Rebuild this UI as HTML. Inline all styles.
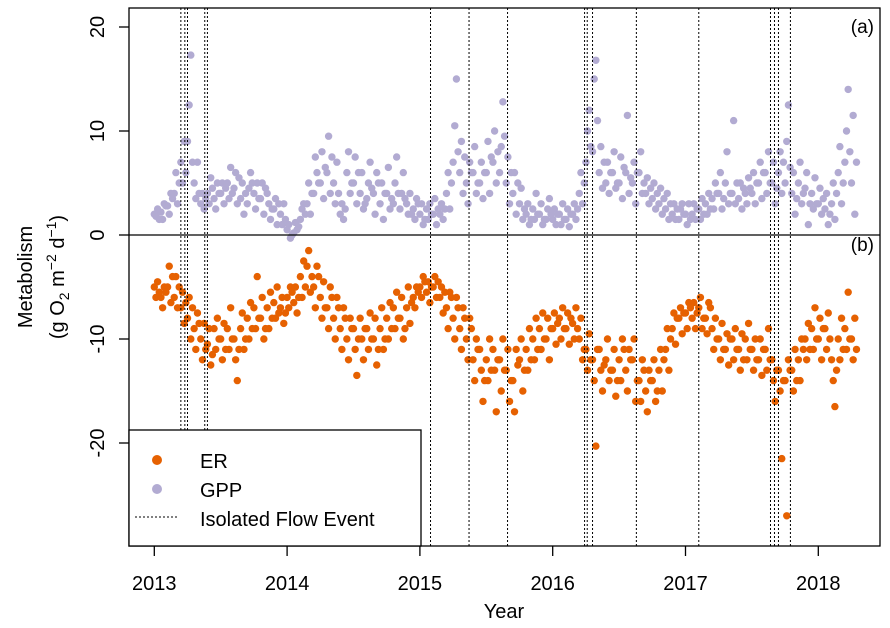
<!DOCTYPE html>
<html><head><meta charset="utf-8"><style>
html,body{margin:0;padding:0;background:#fff;}
svg{display:block;font-family:"Liberation Sans",Arial,sans-serif;}
</style></head><body>
<svg id="chart" width="890" height="628" viewBox="0 0 890 628"></svg>
<script>
const startYear = 2013.0;
const dateStep = 0.05;
const gppValues = [
2,1.8,2.5, 2.2,1.5,3, 2.8,2,4, 4,6,3, 7,5,9, 9,12.5,17.3, 5,3.5,7, 3,4,2.5, 4,3,5.5, 3.5,2.5,5,
4,5,3, 5,3.5,6.5, 4.5,6,3, 3.5,5,2, 3,4.5,6, 4,2.5,5, 3.5,5,2, 4,3,1.5, 2.5,3.5,1, 2,1,3,
0.5,1,-0.3, 0.2,1.2,0.5, 1.5,2.5,3, 3,5,2, 4,7.5,6, 5,8,3.5, 6,9.5,4, 5,3,7, 2,3,1.5, 6,8,4,
5,7.5,3, 4,6,2.5, 3.5,5,7, 4,2,6, 3,5,1.5, 4,6.5,2.5, 3,5,7.5, 2.5,4,6, 3,2,4, 2.5,1.5,3.5,
2,3,1, 2.5,1.5,3, 2,3.5,1, 2,3,1.5, 4,6,2.5, 7,10.5,15, 6,9,4, 5,3,7, 6,8.5,4, 5,7,3.5,
6,9,4, 7,10,5, 6,8.5,12.8, 5,7.5,3, 4,6,2, 3,4.5,1.5, 2,3,1, 2.5,1.5,4, 2,3,1, 1.5,2.5,3.5,
1.5,2.5,1, 2,1,3, 1.5,2.5,0.8, 2,3,1.5, 4,6,3, 7,10,12, 8,15,16.8, 6,8.5,4.5, 5,7,4, 6,8,4.5,
5,7.5,3.5, 6,11.5,4, 5,7,3, 6,8,4, 4,5.5,3, 3.5,5,2.5, 3,4.5,2, 2.5,4,1.5, 2,3,1.5, 1.5,2.5,3,
2,1,3, 2,3,1.5, 2.5,1.5,3.5, 3,2,4, 3.5,2.5,5, 4,6,2.5, 5,8,3, 4,11,3, 3.5,5,2.5, 4,3,5.5,
4,6,3, 5,7,3.5, 6,4,8, 5,7,3, 6,8,4, 5,9,12.5, 4,6,2, 5,7,3, 4.5,6,1, 4,2.5,5.5,
3,4.5,2, 2.5,4,1, 3,5,1.5, 6,8.5,3, 7,10,14, 5,11.5,2
];
const gppExtra = [
1.5,2.8,3.5,5,6,7,4,3.5,4.5,4, 4.5,4,5.5,4,5,3.5,4.5,2.5,3,1.5,
0,0.8,2,4,5,6.5,7.5,4,2.5,5, 6,3,4.5,5,4,3.5,4,3.5,2,3,
1.5,2,2.5,2.5,5,8,7.5,6,5,6, 7.5,8,9.5,6,5,2.5,1.5,2,1.5,2,
2,1.5,2,2.5,5,8.5,11,7,6,5, 6.5,5.5,6,5,4.5,4,3.5,3,2.5,2,
1.5,2.5,2,2.5,4,3.5,4,5,4.5,4.5, 5,6,5,4.5,7,6.5,3.5,4,3,3,
3.5,2,4,5,8,7
];
const erValues = [
-5,-6,-4.5, -6,-7,-5, -5,-3,-6.5, -6,-4,-7, -7,-5.5,-8.5, -8,-6,-10, -9,-11,-7.5, -10,-12,-8.5, -10.5,-9,-12.5, -9,-11,-8,
-10,-12,-8.5, -9,-11,-7, -10,-12,-14, -9,-7.5,-11, -8,-10,-6.5, -7,-9,-4, -8,-6,-10, -7,-9,-5.5, -6.5,-8,-5, -7,-6,-8.5,
-6,-7,-5, -6.5,-5,-7.5, -4,-6,-2.5, -3,-1.5,-5.5, -5,-7,-3, -6,-8,-4.5, -7,-9,-5, -8,-10,-6, -9,-11,-7, -10,-12,-8,
-9,-11,-13.5, -8,-10,-12, -9,-11,-7.5, -10,-8,-12.5, -9,-7,-11, -8,-10,-6.5, -7,-9,-5.5, -8,-6,-10, -7,-5,-8.5, -6,-7,-5,
-5,-6,-4, -5.5,-4.5,-6.5, -5,-4,-6, -6,-5,-7.5, -7,-9,-5.5, -8,-10,-6, -9,-11,-7, -10,-12,-8, -12,-14,-10, -11,-13,-16,
-12,-14,-10, -11,-13,-17, -12,-15,-10, -13,-11,-16, -14,-17,-11, -12,-10,-15, -11,-13,-9, -10,-12,-8, -9,-11,-7.5, -10,-8,-12,
-9,-7.5,-10.5, -8,-10,-7, -9,-7.5,-10.5, -8.5,-10,-7, -10,-8,-12, -11,-13,-9.5, -12,-14,-20.3, -11,-13,-15, -12,-10,-14, -13,-11,-15.5,
-12,-14,-10, -13,-15,-11, -12,-10,-16, -14,-16,-12, -15,-17,-13, -14,-12,-16, -13,-11,-15, -11,-9,-13, -9,-7.5,-10.5, -8,-7,-9.5,
-7.5,-9,-6.5, -8,-6.5,-9, -7,-6,-9, -8,-9.5,-6.5, -9,-11,-8, -10,-12,-8.5, -11,-9.5,-12.5, -10,-12,-9, -11,-13,-9.5, -10,-12,-8.5,
-11,-13,-10, -12,-10,-13.5, -11,-13,-9, -12,-14,-16, -13,-15,-21.5, -14,-27,-12, -13,-15,-11, -12,-14,-10, -10,-12,-8.5, -9,-11,-7,
-10,-8,-12, -9,-11,-7.5, -12,-14,-16.5, -10,-12,-8, -9,-11,-5.5, -10,-12,-8
];
const erExtra = [
-5.5,-5.5,-4,-5,-6.5,-7,-8.5,-11,-11.5,-10, -11,-10,-11,-10,-9,-8,-9,-8,-7.5,-7.5,
-5.5,-6,-5,-4,-4,-7,-6,-7,-8,-9, -10,-9,-10,-11,-10,-9,-8,-9,-6.5,-5.5,
-4.5,-5,-4.5,-5.5,-6,-7,-8,-9,-11,-14, -13,-12,-13,-14,-12.5,-13,-12,-11,-10,-9,
-8.5,-9,-8,-9,-11,-12,-11,-12.5,-13,-14, -11,-12,-14,-13,-14,-15,-12,-10,-8,-7.5,
-7,-7.5,-8,-7,-10,-11,-10,-11,-12,-11, -12,-11,-12,-13,-14,-13,-14,-11,-11,-10,
-9,-10,-13,-11,-10,-11
];
const eventYears = [2013.20,2013.23,2013.25,2013.38,2013.40,2015.08,2015.37,2015.66,2016.24,2016.26,2016.30,2016.63,2017.10,2017.64,2017.67,2017.70,2017.79];
const xTicks = [2013,2014,2015,2016,2017,2018];
const yTicks = [20,10,0,-10,-20];

const NS = 'http://www.w3.org/2000/svg';
const svg = document.getElementById('chart');
const L = 129, R = 880, T = 8, B = 546;
const xScale = v => 154.3 + (v - 2013) * 132.8;
const yScale = v => 235 - v * 10.4;
function mk(tag, attrs, parent) {
  const e = document.createElementNS(NS, tag);
  for (const k in attrs) e.setAttribute(k, attrs[k]);
  (parent || svg).appendChild(e);
  return e;
}
function tripletDate(i) { return startYear + Math.floor(i / 3) * dateStep + (i % 3) * (dateStep / 4); }
function extraDate(i) { return startYear + i * dateStep + 3 * dateStep / 4; }

function drawSeries(name, color, vals, extra) {
  const g = mk('g', {});
  
  
  vals.forEach((v, i) => {
    const c = mk('circle', {cx: xScale(tripletDate(i)), cy: yScale(v), r: 3.7, fill: color}, g);
    
    
  });
  extra.forEach((v, i) => {
    const c = mk('circle', {cx: xScale(extraDate(i)), cy: yScale(v), r: 3.7, fill: color}, g);
    
    
  });
}
drawSeries('gpp', '#b2abd2', gppValues, gppExtra);
drawSeries('er', '#e66101', erValues, erExtra);

eventYears.forEach(y => {
  const l = mk('line', {x1: xScale(y), x2: xScale(y), y1: T, y2: B, stroke: '#000', 'stroke-width': 1, 'stroke-dasharray': '2,2'});
  
  
});
const zl = mk('line', {x1: L, x2: R, y1: yScale(0), y2: yScale(0), stroke: '#000', 'stroke-width': 1.3});


const frame = mk('rect', {x: L, y: T, width: R - L, height: B - T, fill: 'none', stroke: '#000', 'stroke-width': 1.3});



xTicks.forEach(t => {
  const x = xScale(t);
  const tk = mk('line', {x1: x, x2: x, y1: B, y2: B + 10, stroke: '#000', 'stroke-width': 1.3});
  
  
  const tx = mk('text', {x: x, y: 590, 'font-size': 20, 'text-anchor': 'middle'});
  tx.textContent = t;
  
  
});
yTicks.forEach(t => {
  const y = yScale(t);
  const tk = mk('line', {x1: L - 10, x2: L, y1: y, y2: y, stroke: '#000', 'stroke-width': 1.3});
  
  
  const tx = mk('text', {x: 0, y: 0, 'font-size': 20, 'text-anchor': 'middle', transform: `translate(104,${y}) rotate(-90)`});
  tx.textContent = t;
  
  
});
</script>
<svg width="890" height="628" style="position:absolute;left:0;top:0;font-family:'Liberation Sans',Arial,sans-serif">
  <text x="504" y="618" font-size="20" text-anchor="middle">Year</text>
  <text transform="translate(32,277) rotate(-90)" font-size="20" text-anchor="middle">Metabolism</text>
  <text transform="translate(64,277) rotate(-90)" font-size="20" text-anchor="middle">(g O<tspan font-size="14" dy="5">2</tspan><tspan dy="-5"> m</tspan><tspan font-size="14" dy="-8">−2</tspan><tspan dy="8"> d</tspan><tspan font-size="14" dy="-8">−1</tspan><tspan dy="8">)</tspan></text>
  <text x="874" y="33" font-size="19" text-anchor="end">(a)</text>
  <text x="874" y="251" font-size="19" text-anchor="end">(b)</text>
  <g>
    <rect x="129" y="430" width="292" height="116" fill="#fff" stroke="#000" stroke-width="1.3"/>
    <circle cx="157" cy="460" r="5" fill="#e66101"/>
    <text x="200" y="468" font-size="20">ER</text>
    <circle cx="157" cy="489" r="5" fill="#b2abd2"/>
    <text x="200" y="497" font-size="20">GPP</text>
    <line x1="135" x2="178" y1="517" y2="517" stroke="#000" stroke-dasharray="2,2"/>
    <text x="200" y="526" font-size="20">Isolated Flow Event</text>
  </g>
</svg>
</body></html>
